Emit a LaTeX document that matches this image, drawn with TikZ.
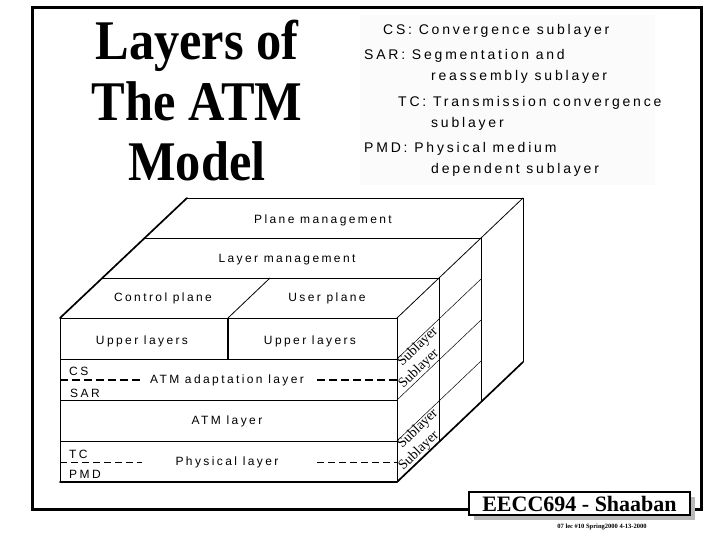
\documentclass[tikz,border=0pt]{standalone}
\usepackage{fontspec}
\setmainfont{Liberation Serif}
\newfontfamily\spfont[LetterSpace=20]{Liberation Sans}
\begin{document}
\begin{tikzpicture}[x=1pt,y=-1pt,
  lbl/.style={font=\spfont\fontsize{12}{14}\selectfont, inner sep=0pt},
  leg/.style={font=\spfont\fontsize{14}{16}\selectfont, inner sep=0pt, anchor=base west},
  ttl/.style={font=\bfseries\fontsize{56}{60}\selectfont, inner sep=0pt, anchor=base},
  subl/.style={font=\fontsize{14}{15}\selectfont, inner sep=0pt, rotate=44},
  edge/.style={line width=0.8pt},
  heavy/.style={line width=1.7pt, line cap=round},
  aaldash/.style={line width=1.6pt, dash pattern=on 8pt off 4pt},
  phydash/.style={line width=0.8pt, dash pattern=on 7pt off 4pt}]
\useasboundingbox (0,0) rectangle (720,540);
% slide frame
\draw[line width=3pt] (32,8) rectangle (701,509);

% title
\node[ttl] (t1) at (197,60) {\scalebox{0.9}[1]{Layers of}};
\node[ttl] (t2) at (197,121) {\scalebox{0.9}[1]{The ATM}};
\node[ttl] (t3) at (197,181) {\scalebox{0.9}[1]{Model}};

% legend
\fill[gray!3] (360,15) rectangle (655,185);
\node[leg] (l1) at (383,35) {CS: Convergence sublayer};
\node[leg] (l2) at (364,60) {SAR: Segmentation and};
\node[leg] (l3) at (431,81) {reassembly sublayer};
\node[leg] (l4) at (398,107) {TC: Transmission convergence};
\node[leg] (l5) at (431,128) {sublayer};
\node[leg] (l6) at (364,153) {PMD: Physical medium};
\node[leg] (l7) at (431,174) {dependent sublayer};

% box corners
\coordinate (f1) at (60,318);
\coordinate (f2) at (397,318);
\coordinate (f3) at (397,482);
\coordinate (f4) at (60,482);
\coordinate (b1) at (187,198);
\coordinate (b2) at (523,198);
\coordinate (b3) at (523,362);
\coordinate (s1a) at (145,238);
\coordinate (s1b) at (481,238);
\coordinate (s1c) at (481,402);
\coordinate (s2a) at (102,278);
\coordinate (s2b) at (439,278);
\coordinate (s2c) at (439,442);
\coordinate (cu1) at (270,278);
\coordinate (cu2) at (228,318);
\coordinate (cu3) at (228,359);

% top face
\draw[edge] (b1) -- (b2);
\draw[edge] (s1a) -- (s1b);
\draw[edge] (s2a) -- (s2b);
\draw[edge] (cu1) -- (cu2);
\draw[edge] (f2) -- (b2);
\draw[heavy] (f1) -- (b1);
% right face
\draw[edge] (b2) -- (b3);
\draw[edge] (s1b) -- (s1c);
\draw[edge] (s2b) -- (s2c);
\draw[heavy] (f3) -- (b3);
\foreach \yy in {359,400,441}{
  \draw[line width=0.5pt] (397,\yy) -- (481,\yy-80);
}
% front face
\draw[edge] (f1) -- (f2) -- (f3);
\draw[edge] (f1) -- (f4);
\draw[heavy] (f4) -- (f3);
\draw[edge] (60,359) -- (397,359);
\draw[edge] (60,400) -- (397,400);
\draw[edge] (60,441) -- (397,441);
\draw[line width=1.3pt] (cu2) -- (cu3);
\draw[aaldash] (60,380) -- (142,380);
\draw[aaldash] (317,380) -- (397,380);
\draw[phydash] (60,462) -- (142,462);
\draw[phydash] (317,462) -- (397,462);

% diagram labels
\node[lbl] (pm) at (323,220) {Plane management};
\node[lbl] (lm) at (287,260) {Layer management};
\node[lbl] (cp) at (163,298) {Control plane};
\node[lbl] (up) at (327,298) {User plane};
\node[lbl] (ul1) at (142,341) {Upper layers};
\node[lbl] (ul2) at (310,341) {Upper layers};
\node[lbl] (aal) at (227,380) {ATM adaptation layer};
\node[lbl] (atm) at (227,421) {ATM layer};
\node[lbl] (phy) at (227,462) {Physical layer};
\node[lbl, anchor=west] (cs) at (69,371) {CS};
\node[lbl, anchor=west] (sar) at (70,393) {SAR};
\node[lbl, anchor=west] (tc) at (69,454) {TC};
\node[lbl, anchor=west] (pmd) at (69,474) {PMD};
\node[subl] (sb1) at (418,347) {Sublayer};
\node[subl] (sb2) at (419,369) {Sublayer};
\node[subl] (sb3) at (418,429) {Sublayer};
\node[subl] (sb4) at (419,451) {Sublayer};

% footer box
\fill[gray!55] (474,497) rectangle (695,520);
\draw[line width=1.5pt, fill=white] (469,492) rectangle (690,515);
\node[font=\bfseries\fontsize{22}{24}\selectfont, inner sep=0pt] (ft) at (579.5,503.5) {EECC694 - Shaaban};
\node[font=\bfseries\fontsize{6.5}{7}\selectfont, inner sep=0pt] (fs) at (602,527) {07 lec \#10 Spring2000 4-13-2000};
\end{tikzpicture}
\end{document}
